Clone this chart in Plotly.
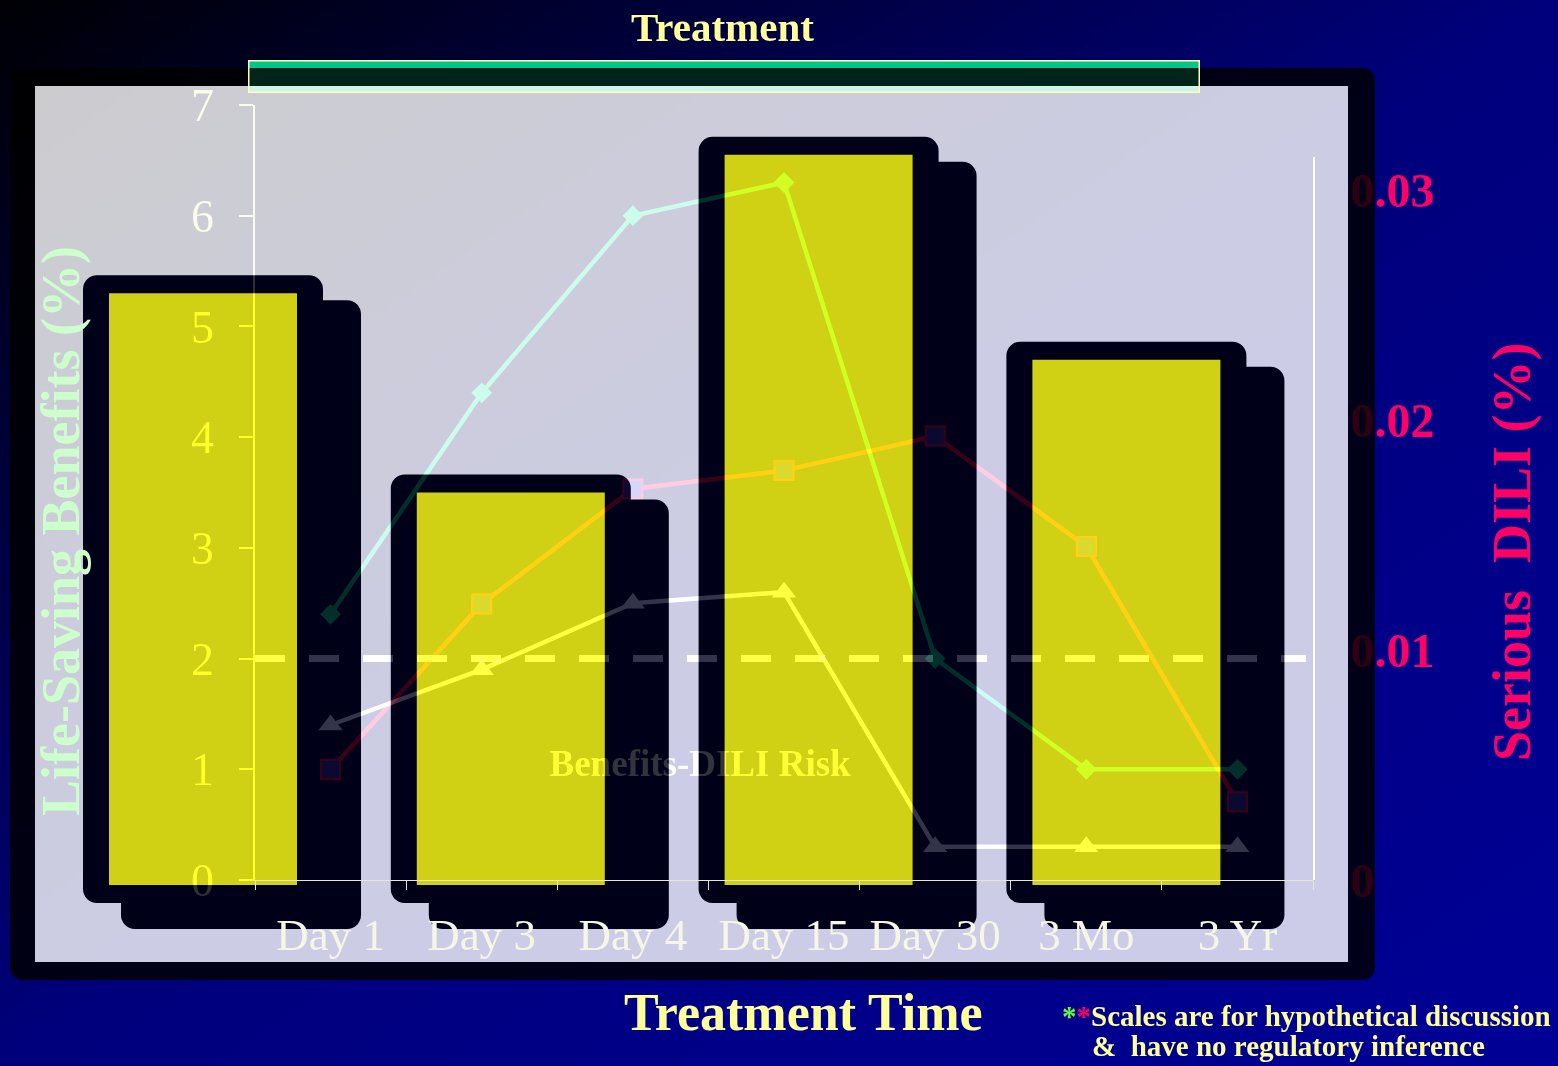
import base64
import plotly.graph_objects as go

# ---- canvas geometry (pixels) ----
W, H = 1558, 1066
AL, AR, AT, AB = 35, 1348, 86, 962            # washed panel = full plotting area
PL, PR, PT, PB = 255, 1313, 105, 880          # visible axes box
Y_MAX = 7.0
U = (PB - PT) / Y_MAX                          # px per benefit unit
Y2_PX_PER_UNIT = 230 / 0.01                    # right axis: 0.01 per 230 px
Y2_TOP_PX = 157

# ---- data ----
categories = ["Day 1", "Day 3", "Day 4", "Day 15", "Day 30", "3 Mo", "3 Yr"]
benefit_diamond = [2.4, 4.4, 6.0, 6.3, 2.0, 1.0, 1.0]
benefit_triangle = [1.4, 1.9, 2.5, 2.6, 0.3, 0.3, 0.3]
dili_risk = [0.0048, 0.0120, 0.0170, 0.0178, 0.0193, 0.0145, 0.0034]

net_slots = [0, 1, 2, 3]
net_values = [5.3, 3.5, 6.55, 4.7]

threshold = 2.0
left_ticks = [0, 1, 2, 3, 4, 5, 6, 7]
right_tickvals = [0, 0.01, 0.02, 0.03]
right_ticktext = ["0", "0.01", "0.02", "0.03"]

label_text = "Benefits-DILI Risk"
label_x, label_y = 1.615, 1.02

SERIF = "Liberation Serif, Times New Roman, serif"


def fx(px):
    return (px - AL) / (AR - AL)


def fy(py):
    return (AB - py) / (AB - AT)


def P(px, py):
    return f"{fx(px):.5f},{fy(py):.5f}"


# ---- slide backdrop: gradient, treatment band, dark frame, washed plot panel ----
svg = f"""<svg xmlns="http://www.w3.org/2000/svg" width="{W}" height="{H}" viewBox="0 0 {W} {H}" preserveAspectRatio="none">
<defs><linearGradient id="g" x1="0" y1="0" x2="1" y2="1">
<stop offset="0" stop-color="#000004"/><stop offset="0.5" stop-color="#00007c"/><stop offset="1" stop-color="#000096"/>
</linearGradient></defs>
<rect width="{W}" height="{H}" fill="url(#g)"/>
<rect x="248" y="60" width="952" height="33" fill="#00c68a"/>
<path fill-rule="evenodd" fill="#000" fill-opacity="0.82"
 d="M1348,68 H24 Q10,68 10,82 V966 Q10,980 24,980 H1348 Z M35,86 H1348 V962 H35 Z"/>
<rect x="35" y="86" width="1313" height="876" fill="#fff" fill-opacity="0.8"/>
<rect x="248.75" y="60.75" width="950.5" height="31.5" fill="none" stroke="#ffffb8" stroke-width="1.5"/>
</svg>"""
svg_uri = "data:image/svg+xml;base64," + base64.b64encode(svg.encode()).decode()

# bar axis: slot spacing 307.8 px, first slot centred at x=203 px
SLOT_PX = 307.8
x_lo = (AL - 203) / SLOT_PX
x_hi = x_lo + (AR - AL) / SLOT_PX
# bar value axis shares the benefit scale, zero at the x axis line
y3_lo = (PB - AB) / U
y3_hi = (PB - AT) / U

bar_w = 188 / SLOT_PX
box_w = 240 / SLOT_PX
box_shift = 38 / SLOT_PX
pad_top = 18 / U
front_base = -23 / U
back_drop = 25 / U
back_base = -49 / U
yellow_base = -5 / U

BOX = "#000019"
YELLOW = "#d0d014"

fig = go.Figure()

# shadowed black boxes behind each yellow bar
fig.add_trace(go.Bar(
    x=net_slots, y=[v + pad_top - back_drop - back_base for v in net_values], base=back_base,
    width=box_w, offset=-box_w / 2 + box_shift, xaxis="x", yaxis="y3",
    marker=dict(color=BOX, line=dict(width=0), cornerradius=14), hoverinfo="skip"))
fig.add_trace(go.Bar(
    x=net_slots, y=[v + pad_top - front_base for v in net_values], base=front_base,
    width=box_w, offset=-box_w / 2, xaxis="x", yaxis="y3",
    marker=dict(color=BOX, line=dict(width=0), cornerradius=14), hoverinfo="skip"))
fig.add_trace(go.Bar(
    x=net_slots, y=[v - yellow_base for v in net_values], base=yellow_base,
    width=bar_w, offset=-bar_w / 2, xaxis="x", yaxis="y3",
    marker=dict(color=YELLOW, line=dict(width=0)), hoverinfo="skip"))

fig.add_trace(go.Scatter(
    x=[label_x], y=[label_y], text=[label_text], mode="text", xaxis="x", yaxis="y3",
    textfont=dict(family=SERIF, size=37, color="#333322", weight="bold"),
    cliponaxis=False, hoverinfo="skip"))

# benefit curves (left axis) and DILI curve (right axis)
fig.add_trace(go.Scatter(
    x=categories, y=benefit_diamond, xaxis="x2", yaxis="y", mode="lines+markers",
    line=dict(color="#003010", width=4.5),
    marker=dict(symbol="diamond", size=16, color="#003010"), cliponaxis=False))
fig.add_trace(go.Scatter(
    x=categories, y=benefit_triangle, xaxis="x2", yaxis="y", mode="lines+markers",
    line=dict(color="#333330", width=4.5),
    marker=dict(symbol="triangle-up", size=21, color="#333330"), cliponaxis=False))
fig.add_trace(go.Scatter(
    x=categories, y=dili_risk, xaxis="x2", yaxis="y2", mode="lines+markers",
    line=dict(color="#3a0000", width=4.5),
    marker=dict(symbol="square", size=19, color="#0a0a18", line=dict(color="#3a0000", width=2)),
    cliponaxis=False))

shapes = [
    # threshold line on the benefit scale
    dict(type="line", xref="x2 domain", yref="y", x0=0, x1=(1306 - PL) / (PR - PL),
         y0=threshold, y1=threshold,
         line=dict(color="#333333", width=7, dash="30px,24px"), layer="above"),
    # right edge of the dark frame, laid over the right tick labels
    dict(type="path", xref="paper", yref="paper",
         path=f"M{P(1348,68)} L{P(1361,68)} Q{P(1375,68)} {P(1375,82)} L{P(1375,966)} "
              f"Q{P(1375,980)} {P(1361,980)} L{P(1348,980)} Z",
         fillcolor="#000000", opacity=0.82, line=dict(width=0), layer="above"),
]

annotations = [
    dict(text="Treatment", x=fx(722), y=fy(27), xref="paper", yref="paper", showarrow=False,
         xanchor="center", yanchor="middle",
         font=dict(family=SERIF, size=41, color="#ffff99", weight="bold")),
    dict(text="Treatment Time", x=fx(803), y=fy(1012), xref="paper", yref="paper", showarrow=False,
         xanchor="center", yanchor="middle",
         font=dict(family=SERIF, size=52, color="#ffff99", weight="bold")),
    dict(text="Life-Saving Benefits (%)", x=fx(61), y=fy(531), xref="paper", yref="paper",
         showarrow=False, textangle=-90, xanchor="center", yanchor="middle",
         font=dict(family=SERIF, size=54, color="#ccffcc", weight="bold")),
    dict(text="Serious\u00a0\u00a0DILI (%)", x=fx(1512), y=fy(552), xref="paper", yref="paper",
         showarrow=False, textangle=-90, xanchor="center", yanchor="middle",
         font=dict(family=SERIF, size=54, color="#ff0066", weight="bold")),
    dict(text='<span style="color:#66ff33">*</span><span style="color:#ff0066">*</span>'
              'Scales are for hypothetical discussion',
         x=fx(1060), y=fy(1016), xref="paper", yref="paper", showarrow=False,
         xanchor="left", yanchor="middle",
         font=dict(family=SERIF, size=29, color="#ffff99", weight="bold")),
    dict(text="&\u00a0\u00a0have no regulatory inference",
         x=fx(1090), y=fy(1046), xref="paper", yref="paper", showarrow=False,
         xanchor="left", yanchor="middle",
         font=dict(family=SERIF, size=29, color="#ffff99", weight="bold")),
]

fig.update_layout(
    width=W, height=H,
    margin=dict(l=AL, r=W - AR, t=AT, b=H - AB, pad=0),
    paper_bgcolor="#000050", plot_bgcolor="rgba(0,0,0,0)",
    barmode="overlay", showlegend=False, hovermode=False,
    images=[dict(source=svg_uri, xref="paper", yref="paper", x=fx(0), y=fy(0),
                 sizex=W / (AR - AL), sizey=H / (AB - AT), xanchor="left", yanchor="top",
                 sizing="stretch", layer="below")],
    shapes=shapes, annotations=annotations,
    xaxis=dict(range=[x_lo, x_hi], domain=[0, 1], anchor="y3", visible=False, fixedrange=True),
    yaxis3=dict(range=[y3_lo, y3_hi], domain=[0, 1], anchor="x", visible=False, fixedrange=True),
    xaxis2=dict(type="category", domain=[fx(PL), fx(PR)], anchor="y", side="bottom",
                range=[-0.5, len(categories) - 0.5], showgrid=False, zeroline=False,
                showline=True, linecolor="#e6e6d2", linewidth=1,
                ticks="outside", tickson="boundaries", ticklen=9, tickcolor="#e6e6d2",
                ticklabelstandoff=15, fixedrange=True,
                tickfont=dict(family=SERIF, size=45, color="#f6f6e6")),
    yaxis=dict(range=[0, Y_MAX], domain=[fy(PB), fy(PT)], anchor="x2", tickvals=left_ticks,
               showgrid=False, zeroline=False,
               showline=True, linecolor="#303018", linewidth=1.5,
               ticks="outside", ticklen=14, tickwidth=1.5, tickcolor="#303018",
               ticklabelstandoff=16, fixedrange=True,
               tickfont=dict(family=SERIF, size=46, color="#303018")),
    yaxis2=dict(domain=[fy(PB), fy(Y2_TOP_PX)], anchor="x2", side="right",
                range=[0, (PB - Y2_TOP_PX) / Y2_PX_PER_UNIT],
                tickvals=right_tickvals, ticktext=right_ticktext, showgrid=False,
                zeroline=False, showline=True, linecolor="#f2f2f2", linewidth=2,
                ticks="", ticklabelstandoff=26, fixedrange=True,
                tickfont=dict(family=SERIF, size=48, color="#ff0066", weight="bold")),
)

# additive (plus-lighter) compositing for the curves, the threshold and left-axis ink
blend_js = """
var gd = document.getElementById('{plot_id}');
function addLight(){
  var q = gd.querySelectorAll('.scatterlayer .trace, g.ytick text, path.ytick, [class*="ylines"], .shapelayer [data-index="0"]');
  q.forEach(function(el){ el.style.mixBlendMode = 'plus-lighter'; });
}
addLight();
gd.on('plotly_afterplot', addLight);
"""

fig.write_html("out.html", config={"displayModeBar": False}, post_script=blend_js)
